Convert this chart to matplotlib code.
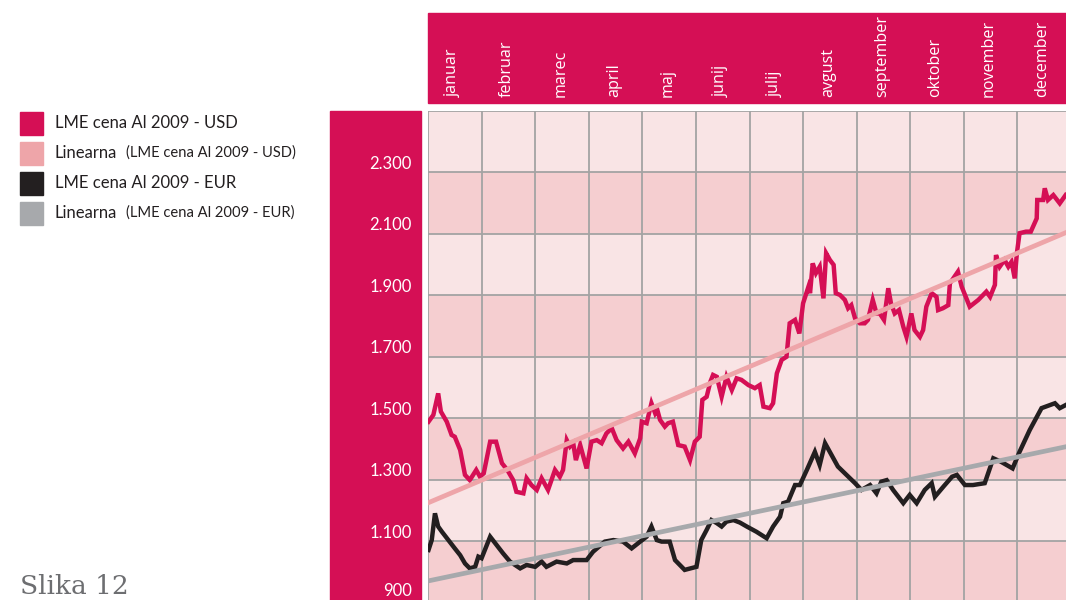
import matplotlib
matplotlib.use("Agg")
from matplotlib import pyplot as plt
from matplotlib.patches import Rectangle
import matplotlib.transforms as mtrans

# values (x = month position, 0 = start of januar)
usd_month = [0.01, 0.10, 0.19, 0.24, 0.35, 0.44, 0.50, 0.60, 0.69, 0.78, 0.90, 0.97, 1.04, 1.16, 1.27,
             1.38, 1.48, 1.59, 1.65, 1.78, 1.84, 1.93, 2.03, 2.12, 2.24, 2.37, 2.46, 2.52, 2.59, 2.65,
             2.71, 2.76, 2.84, 2.96, 3.05, 3.15, 3.24, 3.33, 3.43, 3.52, 3.64, 3.74, 3.86, 3.96, 3.99,
             4.08, 4.17, 4.24, 4.28, 4.33, 4.42, 4.48, 4.57, 4.67, 4.79, 4.89, 4.98, 5.07, 5.12, 5.20,
             5.27, 5.32, 5.39, 5.48, 5.57, 5.67, 5.76, 5.85, 5.98, 6.10, 6.19, 6.26, 6.38, 6.44, 6.51,
             6.60, 6.69, 6.75, 6.85, 6.93, 7.00, 7.10, 7.13, 7.18, 7.24, 7.31, 7.38, 7.43, 7.50, 7.57,
             7.61, 7.69, 7.78, 7.84, 7.90, 7.97, 8.06, 8.15, 8.21, 8.30, 8.37, 8.43, 8.51, 8.59, 8.64,
             8.71, 8.79, 8.87, 8.93, 9.02, 9.08, 9.18, 9.24, 9.30, 9.40, 9.49, 9.52, 9.61, 9.71, 9.74,
             9.89, 9.96, 10.11, 10.27, 10.42, 10.49, 10.58, 10.60, 10.67, 10.76, 10.83, 10.89, 10.95, 10.99, 11.04,
             11.16, 11.25, 11.36, 11.37, 11.48, 11.51, 11.57, 11.67, 11.79, 11.90]
usd_value = [1488, 1510, 1580, 1521, 1488, 1445, 1439, 1396, 1315, 1298, 1331, 1309, 1320, 1423, 1423,
             1353, 1331, 1298, 1260, 1255, 1304, 1282, 1266, 1304, 1266, 1331, 1309, 1331, 1428, 1407,
             1418, 1363, 1412, 1336, 1423, 1428, 1418, 1450, 1467, 1428, 1401, 1423, 1385, 1434, 1488,
             1483, 1548, 1515, 1526, 1494, 1472, 1483, 1488, 1412, 1407, 1363, 1423, 1439, 1559, 1569,
             1618, 1640, 1634, 1569, 1634, 1591, 1629, 1624, 1607, 1597, 1607, 1537, 1532, 1548, 1645,
             1689, 1699, 1808, 1819, 1775, 1873, 1927, 1906, 2003, 1971, 1992, 1889, 2036, 2014, 1998,
             1906, 1900, 1884, 1857, 1867, 1824, 1808, 1808, 1819, 1884, 1840, 1840, 1819, 1922, 1873,
             1840, 1851, 1797, 1764, 1840, 1786, 1764, 1786, 1862, 1906, 1894, 1851, 1857, 1867, 1938,
             1976, 1927, 1862, 1884, 1911, 1894, 1933, 2030, 1992, 2014, 1992, 2008, 1954, 2036, 2101,
             2106, 2106, 2149, 2209, 2209, 2247, 2209, 2225, 2198, 2225]

eur_month = [0.01, 0.07, 0.13, 0.19, 0.26, 0.38, 0.50, 0.60, 0.69, 0.78, 0.88, 0.94, 1.00, 1.16, 1.28,
             1.40, 1.53, 1.72, 1.84, 2.00, 2.12, 2.21, 2.40, 2.59, 2.71, 2.96, 3.08, 3.30, 3.46, 3.64,
             3.80, 3.96, 4.08, 4.17, 4.27, 4.36, 4.51, 4.61, 4.79, 5.01, 5.10, 5.20, 5.29, 5.39, 5.48,
             5.57, 5.70, 5.82, 5.95, 6.13, 6.32, 6.44, 6.57, 6.63, 6.72, 6.85, 6.94, 7.07, 7.22, 7.31,
             7.41, 7.53, 7.65, 7.81, 7.97, 8.09, 8.25, 8.37, 8.46, 8.56, 8.68, 8.87, 8.99, 9.12, 9.27,
             9.40, 9.46, 9.62, 9.78, 9.87, 10.02, 10.17, 10.39, 10.55, 10.69, 10.80, 10.91, 11.04, 11.23, 11.45,
             11.70, 11.79, 11.90]
eur_value = [1071, 1103, 1190, 1147, 1130, 1103, 1076, 1054, 1027, 1011, 1016, 1049, 1044, 1114, 1087,
             1060, 1033, 1011, 1022, 1016, 1033, 1016, 1033, 1027, 1038, 1038, 1065, 1098, 1103, 1098,
             1076, 1098, 1114, 1147, 1103, 1098, 1098, 1038, 1006, 1016, 1103, 1136, 1168, 1158, 1147,
             1163, 1168, 1160, 1147, 1130, 1109, 1147, 1179, 1223, 1228, 1282, 1282, 1331, 1390, 1347,
             1418, 1380, 1342, 1315, 1288, 1266, 1282, 1255, 1293, 1298, 1266, 1223, 1250, 1223, 1266,
             1288, 1244, 1277, 1309, 1315, 1282, 1282, 1288, 1369, 1358, 1347, 1336, 1390, 1461, 1532,
             1548, 1532, 1542]

trend_month = [0, 12]
trend_usd = [1224, 2110]
trend_eur = [970, 1410]

months = ["januar", "februar", "marec", "april", "maj", "junij", "julij",
          "avgust", "september", "oktober", "november", "december"]
y_ticks = [900, 1100, 1300, 1500, 1700, 1900, 2100, 2300]
y_labels = ["900", "1.100", "1.300", "1.500", "1.700", "1.900", "2.100", "2.300"]

legend_main = ["LME cena Al 2009 - USD", "Linearna", "LME cena Al 2009 - EUR", "Linearna"]
legend_small = ["", "(LME cena Al 2009 - USD)", "", "(LME cena Al 2009 - EUR)"]

RED = "#d50f55"
PINK = "#eea5a9"
BLACK = "#231f20"
GREY = "#a7a9ac"
LIGHT = "#f9e4e5"
DARK = "#f5ced0"
GRID = "#a3a3a3"
legend_colors = [RED, PINK, BLACK, GREY]

W, H = 1066, 600
fig = plt.figure(figsize=(W / 100, H / 100), dpi=100)

# plot area (runs a little past the right and bottom edges, like the original crop)
ax = fig.add_axes([428 / W, (H - 602.5) / H, 643 / W, 492 / H])
ax.set_xlim(0, 12)
ax.set_ylim(900, 2500)
for s in ax.spines.values():
    s.set_visible(False)
ax.set_xticks([])
ax.set_yticks([])

for i, lo in enumerate(range(900, 2500, 200)):
    ax.axhspan(lo, lo + 200, color=DARK if i % 2 == 0 else LIGHT, zorder=0, lw=0)
for m in range(13):
    ax.axvline(m, color=GRID, lw=1.3, zorder=1)
for v in range(900, 2501, 200):
    ax.axhline(v, color=GRID, lw=1.3, zorder=1)

ax.plot(usd_month, usd_value, color=RED, lw=3.2, solid_joinstyle="miter", zorder=3)
ax.plot(eur_month, eur_value, color=BLACK, lw=3.2, solid_joinstyle="miter", zorder=3)
ax.plot(trend_month, trend_usd, color=PINK, lw=3.4, zorder=4)
ax.plot(trend_month, trend_eur, color=GREY, lw=3.4, zorder=4)

# magenta header and left band (behind everything else)
fig.patches.append(Rectangle((428 / W, (H - 103) / H), 1 - 428 / W, 90 / H,
                             transform=fig.transFigure, color=RED, zorder=-1))
fig.patches.append(Rectangle((330 / W, 0), 91 / W, 489 / H,
                             transform=fig.transFigure, color=RED, zorder=-1))

tr_x = mtrans.blended_transform_factory(ax.transData, fig.transFigure)
for i, name in enumerate(months):
    fig.text(i + 0.47, (H - 97) / H, name, transform=tr_x, rotation=90,
             ha="center", va="bottom", color="white", fontsize=11.6,
             family="Open Sans")

tr_y = mtrans.blended_transform_factory(fig.transFigure, ax.transData)
for v, lab in zip(y_ticks, y_labels):
    if v == y_ticks[0]:
        # lowest label sits at the bottom edge; keep it fully inside
        fig.text(412 / W, 1 / H, lab, ha="right", va="bottom",
                 color="white", fontsize=12, family="Lato")
    else:
        fig.text(412 / W, v + 10, lab, transform=tr_y, ha="right", va="baseline",
                 color="white", fontsize=12, family="Lato")

# legend
for i, (main, small, col) in enumerate(zip(legend_main, legend_small, legend_colors)):
    yc = 123 + 30 * i
    fig.patches.append(Rectangle((20 / W, (H - yc - 11.5) / H), 23 / W, 23 / H,
                                 transform=fig.transFigure, color=col))
    fig.text(55 / W, (H - yc) / H, main, ha="left", va="center",
             fontsize=12, color=BLACK, family="Lato")
    if small:
        fig.text(126 / W, (H - yc) / H, small, ha="left", va="center",
                 fontsize=10.6, color=BLACK, family="Lato")

fig.text(20 / W, 1 / H, "Slika 12", ha="left", va="bottom",
         fontsize=19, color="#6d6e71", family="DejaVu Serif")

fig.savefig("out.png", dpi=100)
